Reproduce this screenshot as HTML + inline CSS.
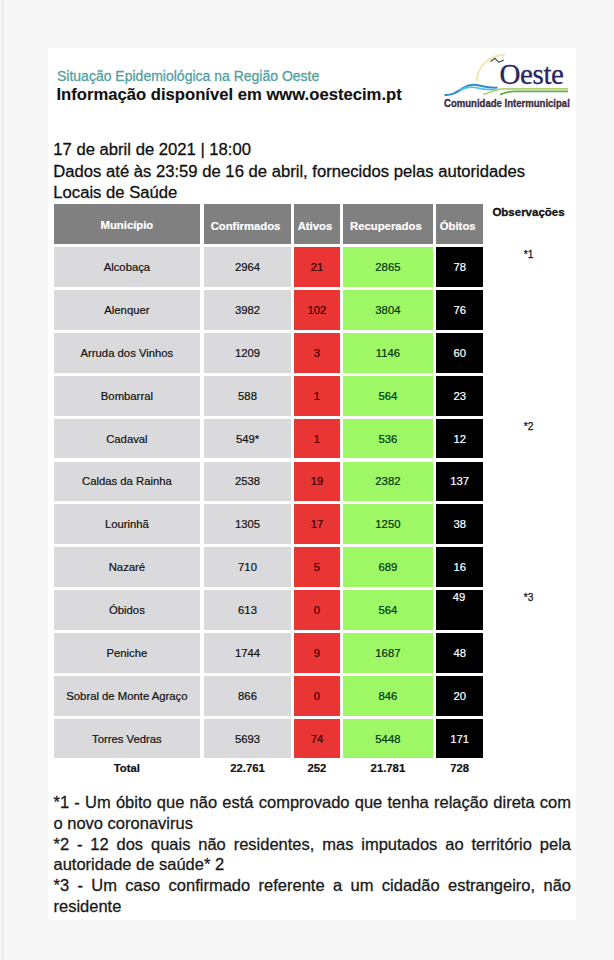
<!DOCTYPE html>
<html><head><meta charset="utf-8">
<style>
html,body{margin:0;padding:0;}
body{width:614px;height:960px;background:#f7f7f7;position:relative;overflow:hidden;font-family:"Liberation Sans",sans-serif;color:#111;}
.card{position:absolute;left:48px;top:48px;width:528px;height:872px;background:#fff;}
.t{position:absolute;white-space:nowrap;line-height:1;-webkit-text-stroke:0.3px currentColor;}
.c{position:absolute;display:flex;align-items:center;justify-content:center;white-space:nowrap;font-size:11.3px;color:#111;-webkit-text-stroke:0.2px currentColor;}
.h{background:#808080;color:#fff;font-weight:bold;font-size:11.3px;}
.g{background:#dadadc;}
.r{background:#ea3535;color:#300;}
.gr{background:#9ef866;color:#031;}
.k{background:#000;color:#fff;}
.tot{font-weight:bold;font-size:11.3px;color:#111;}
.ft{position:absolute;left:53.5px;width:517.5px;font-size:16.5px;line-height:20.8px;text-align:justify;text-align-last:left;color:#1a1a1a;-webkit-text-stroke:0.3px currentColor;}
</style></head>
<body>
<div style="position:absolute;left:2px;top:0;width:1.5px;height:960px;background:#ebebeb"></div><div style="position:absolute;left:3.5px;top:0;width:5px;height:960px;background:#f8f6f8"></div>
<div class="card"></div>

<div class="t" style="left:57px;top:69px;font-size:14px;color:#55a0a2;">Situação Epidemiológica na Região Oeste</div>
<div class="t" style="left:56.5px;top:86.6px;font-size:16.65px;font-weight:bold;color:#111;-webkit-text-stroke:0.1px #111;">Informação disponível em www.oestecim.pt</div>

<svg style="position:absolute;left:0;top:0" width="614" height="960" viewBox="0 0 614 960">
  <path d="M476.8,81.5 C477,67 488,55.5 505,54.6" fill="none" stroke="#efeab8" stroke-width="2.2"/>
  <path d="M490.5,61.5 L495,58.3 L498.8,62.3 L503.8,60" fill="none" stroke="#4a4a4a" stroke-width="1.1"/>
  <path d="M444.5,95 C452,95.5 457,92 463,88 C467,85.5 472,84 477,85 C482,86 488,88 497.5,87.6" fill="none" stroke="#2e8cc6" stroke-width="2"/>
  <path d="M460,90.5 C465,87.5 470,86.5 475,87.5 C481,89 487,90.5 497,89.3" fill="none" stroke="#52c2ec" stroke-width="1.7"/>
  <path d="M483,94.2 C490,93.8 494,89 503,88.9 L568,88.9" fill="none" stroke="#b5d26e" stroke-width="1.7"/>
  <path d="M500,94.5 C505,93 508,91.3 514,91.3 L568,91.3" fill="none" stroke="#5fb04c" stroke-width="1.7"/>
</svg>
<div class="t" style="left:499.5px;top:60px;font-family:'Liberation Serif',serif;font-size:29px;letter-spacing:-0.4px;color:#2c2660;">Oeste</div>
<div class="t" style="left:444.3px;top:98px;font-size:10.5px;font-weight:bold;color:#3a2c3c;transform:scaleX(0.91);transform-origin:0 0;">Comunidade Intermunicipal</div>

<div class="t" style="left:53.3px;top:141.9px;font-size:16.65px;">17 de abril de 2021 | 18:00</div>
<div class="t" style="left:53.3px;top:163.55px;font-size:16.65px;">Dados até às 23:59 de 16 de abril, fornecidos pelas autoridades</div>
<div class="t" style="left:53.3px;top:184.5px;font-size:16.65px;">Locais de Saúde</div>

<div id="tbl">
<div class="c h" style="left:53.5px;top:204.2px;width:146.8px;height:40.0px;"><span style="position:relative;left:0px;top:0.6px">Município</span></div>
<div class="c h" style="left:204px;top:204.2px;width:87.0px;height:40.0px;"><span style="position:relative;left:-2px;top:1.8px">Confirmados</span></div>
<div class="c h" style="left:294.3px;top:204.2px;width:45.3px;height:40.0px;"><span style="position:relative;left:-2px;top:1.8px">Ativos</span></div>
<div class="c h" style="left:342.8px;top:204.2px;width:90.2px;height:40.0px;"><span style="position:relative;left:-2px;top:1.8px">Recuperados</span></div>
<div class="c h" style="left:436.2px;top:204.2px;width:47.0px;height:40.0px;"><span style="position:relative;left:-2px;top:1.8px">Óbitos</span></div>
<div class="c g" style="left:53.5px;top:247.30px;width:146.8px;height:39.8px;">Alcobaça</div>
<div class="c g" style="left:204px;top:247.30px;width:87.0px;height:39.8px;">2964</div>
<div class="c r" style="left:294.3px;top:247.30px;width:45.3px;height:39.8px;">21</div>
<div class="c gr" style="left:342.8px;top:247.30px;width:90.2px;height:39.8px;">2865</div>
<div class="c k" style="left:436.2px;top:247.30px;width:47.0px;height:39.8px;">78</div>
<div class="c g" style="left:53.5px;top:290.15px;width:146.8px;height:39.8px;">Alenquer</div>
<div class="c g" style="left:204px;top:290.15px;width:87.0px;height:39.8px;">3982</div>
<div class="c r" style="left:294.3px;top:290.15px;width:45.3px;height:39.8px;">102</div>
<div class="c gr" style="left:342.8px;top:290.15px;width:90.2px;height:39.8px;">3804</div>
<div class="c k" style="left:436.2px;top:290.15px;width:47.0px;height:39.8px;">76</div>
<div class="c g" style="left:53.5px;top:333.00px;width:146.8px;height:39.8px;">Arruda dos Vinhos</div>
<div class="c g" style="left:204px;top:333.00px;width:87.0px;height:39.8px;">1209</div>
<div class="c r" style="left:294.3px;top:333.00px;width:45.3px;height:39.8px;">3</div>
<div class="c gr" style="left:342.8px;top:333.00px;width:90.2px;height:39.8px;">1146</div>
<div class="c k" style="left:436.2px;top:333.00px;width:47.0px;height:39.8px;">60</div>
<div class="c g" style="left:53.5px;top:375.85px;width:146.8px;height:39.8px;">Bombarral</div>
<div class="c g" style="left:204px;top:375.85px;width:87.0px;height:39.8px;">588</div>
<div class="c r" style="left:294.3px;top:375.85px;width:45.3px;height:39.8px;">1</div>
<div class="c gr" style="left:342.8px;top:375.85px;width:90.2px;height:39.8px;">564</div>
<div class="c k" style="left:436.2px;top:375.85px;width:47.0px;height:39.8px;">23</div>
<div class="c g" style="left:53.5px;top:418.70px;width:146.8px;height:39.8px;">Cadaval</div>
<div class="c g" style="left:204px;top:418.70px;width:87.0px;height:39.8px;">549*</div>
<div class="c r" style="left:294.3px;top:418.70px;width:45.3px;height:39.8px;">1</div>
<div class="c gr" style="left:342.8px;top:418.70px;width:90.2px;height:39.8px;">536</div>
<div class="c k" style="left:436.2px;top:418.70px;width:47.0px;height:39.8px;">12</div>
<div class="c g" style="left:53.5px;top:461.55px;width:146.8px;height:39.8px;">Caldas da Rainha</div>
<div class="c g" style="left:204px;top:461.55px;width:87.0px;height:39.8px;">2538</div>
<div class="c r" style="left:294.3px;top:461.55px;width:45.3px;height:39.8px;">19</div>
<div class="c gr" style="left:342.8px;top:461.55px;width:90.2px;height:39.8px;">2382</div>
<div class="c k" style="left:436.2px;top:461.55px;width:47.0px;height:39.8px;">137</div>
<div class="c g" style="left:53.5px;top:504.40px;width:146.8px;height:39.8px;">Lourinhã</div>
<div class="c g" style="left:204px;top:504.40px;width:87.0px;height:39.8px;">1305</div>
<div class="c r" style="left:294.3px;top:504.40px;width:45.3px;height:39.8px;">17</div>
<div class="c gr" style="left:342.8px;top:504.40px;width:90.2px;height:39.8px;">1250</div>
<div class="c k" style="left:436.2px;top:504.40px;width:47.0px;height:39.8px;">38</div>
<div class="c g" style="left:53.5px;top:547.25px;width:146.8px;height:39.8px;">Nazaré</div>
<div class="c g" style="left:204px;top:547.25px;width:87.0px;height:39.8px;">710</div>
<div class="c r" style="left:294.3px;top:547.25px;width:45.3px;height:39.8px;">5</div>
<div class="c gr" style="left:342.8px;top:547.25px;width:90.2px;height:39.8px;">689</div>
<div class="c k" style="left:436.2px;top:547.25px;width:47.0px;height:39.8px;">16</div>
<div class="c g" style="left:53.5px;top:590.10px;width:146.8px;height:39.8px;">Óbidos</div>
<div class="c g" style="left:204px;top:590.10px;width:87.0px;height:39.8px;">613</div>
<div class="c r" style="left:294.3px;top:590.10px;width:45.3px;height:39.8px;">0</div>
<div class="c gr" style="left:342.8px;top:590.10px;width:90.2px;height:39.8px;">564</div>
<div class="c k" style="left:436.2px;top:590.10px;width:47.0px;height:39.8px;align-items:flex-start;"><span style="margin-top:0.5px;margin-left:-1.5px">49</span></div>
<div class="c g" style="left:53.5px;top:632.95px;width:146.8px;height:39.8px;">Peniche</div>
<div class="c g" style="left:204px;top:632.95px;width:87.0px;height:39.8px;">1744</div>
<div class="c r" style="left:294.3px;top:632.95px;width:45.3px;height:39.8px;">9</div>
<div class="c gr" style="left:342.8px;top:632.95px;width:90.2px;height:39.8px;">1687</div>
<div class="c k" style="left:436.2px;top:632.95px;width:47.0px;height:39.8px;">48</div>
<div class="c g" style="left:53.5px;top:675.80px;width:146.8px;height:39.8px;">Sobral de Monte Agraço</div>
<div class="c g" style="left:204px;top:675.80px;width:87.0px;height:39.8px;">866</div>
<div class="c r" style="left:294.3px;top:675.80px;width:45.3px;height:39.8px;">0</div>
<div class="c gr" style="left:342.8px;top:675.80px;width:90.2px;height:39.8px;">846</div>
<div class="c k" style="left:436.2px;top:675.80px;width:47.0px;height:39.8px;">20</div>
<div class="c g" style="left:53.5px;top:718.65px;width:146.8px;height:39.8px;">Torres Vedras</div>
<div class="c g" style="left:204px;top:718.65px;width:87.0px;height:39.8px;">5693</div>
<div class="c r" style="left:294.3px;top:718.65px;width:45.3px;height:39.8px;">74</div>
<div class="c gr" style="left:342.8px;top:718.65px;width:90.2px;height:39.8px;">5448</div>
<div class="c k" style="left:436.2px;top:718.65px;width:47.0px;height:39.8px;">171</div>
<div class="c tot" style="left:53.5px;top:761.50px;width:146.8px;height:13px;">Total</div>
<div class="c tot" style="left:204px;top:761.50px;width:87.0px;height:13px;">22.761</div>
<div class="c tot" style="left:294.3px;top:761.50px;width:45.3px;height:13px;">252</div>
<div class="c tot" style="left:342.8px;top:761.50px;width:90.2px;height:13px;">21.781</div>
<div class="c tot" style="left:436.2px;top:761.50px;width:47.0px;height:13px;">728</div>
<div class="t" style="left:478.5px;top:206.8px;width:100px;text-align:center;font-size:11.5px;font-weight:bold;color:#111;">Observações</div>
<div class="t" style="left:508.5px;top:249.80px;width:40px;text-align:center;font-size:10.2px;color:#222;">*1</div>
<div class="t" style="left:508.5px;top:422.00px;width:40px;text-align:center;font-size:10.2px;color:#222;">*2</div>
<div class="t" style="left:508.5px;top:593.40px;width:40px;text-align:center;font-size:10.2px;color:#222;">*3</div>
</div>

<div class="ft" style="top:792px;">*1 - Um óbito que não está comprovado que tenha relação direta com o novo coronavirus</div>
<div class="ft" style="top:833.6px;">*2 - 12 dos quais não residentes, mas imputados ao território pela autoridade de saúde* 2</div>
<div class="ft" style="top:875.2px;">*3 - Um caso confirmado referente a um cidadão estrangeiro, não residente</div>

<script>
</script>
</body></html>
